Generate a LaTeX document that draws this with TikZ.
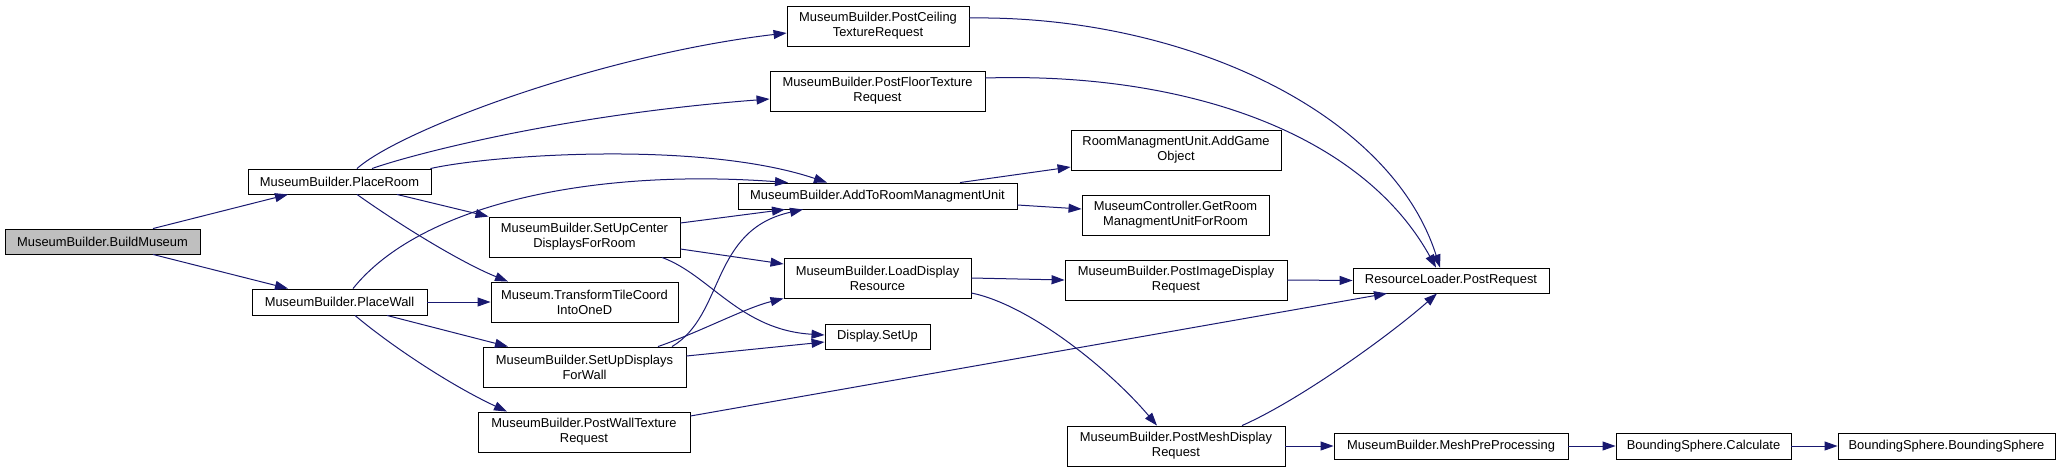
\documentclass[tikz,border=0pt]{standalone}
\usepackage{fontspec}
\setmainfont{Liberation Sans}
\usetikzlibrary{arrows.meta}
\definecolor{edgeblue}{HTML}{191970}
\definecolor{startgrey}{HTML}{BFBFBF}
\begin{document}
\begin{tikzpicture}[x=1pt,y=-1pt,
  box/.style={draw=black, line width=0.9pt, fill=white, inner sep=0pt, align=center,
    font=\fontsize{12.9pt}{15pt}\selectfont},
  edge/.style={draw=edgeblue, line width=1pt, -{Triangle[length=13pt,width=9pt]}}]
\useasboundingbox (0,0) rectangle (2060,472);
% nodes
\node[box, fill=startgrey, minimum width=195pt, minimum height=25pt] (bm) at (102.5,241.5) {MuseumBuilder.BuildMuseum};
\node[box, minimum width=183pt, minimum height=25pt] (pr) at (339.5,181.5) {MuseumBuilder.PlaceRoom};
\node[box, minimum width=175pt, minimum height=26pt] (pw) at (339.5,302) {MuseumBuilder.PlaceWall};
\node[box, minimum width=182pt, minimum height=40pt] (pc) at (878,26) {MuseumBuilder.PostCeiling\\TextureRequest};
\node[box, minimum width=215pt, minimum height=40pt] (pf) at (877.5,91) {MuseumBuilder.PostFloorTexture\\Request};
\node[box, minimum width=279pt, minimum height=26pt] (ar) at (877.5,196) {MuseumBuilder.AddToRoomManagmentUnit};
\node[box, minimum width=191pt, minimum height=40pt] (sc) at (584.5,237) {MuseumBuilder.SetUpCenter\\DisplaysForRoom};
\node[box, minimum width=187pt, minimum height=40pt] (tt) at (584.5,302) {Museum.TransformTileCoord\\IntoOneD};
\node[box, minimum width=203pt, minimum height=40pt] (sd) at (584.5,367) {MuseumBuilder.SetUpDisplays\\ForWall};
\node[box, minimum width=212pt, minimum height=40pt] (pwt) at (584,432) {MuseumBuilder.PostWallTexture\\Request};
\node[box, minimum width=187pt, minimum height=40pt] (ld) at (877.5,278) {MuseumBuilder.LoadDisplay\\Resource};
\node[box, minimum width=105pt, minimum height=25pt] (ds) at (877.5,336.5) {Display.SetUp};
\node[box, minimum width=210pt, minimum height=40pt] (ag) at (1176,150) {RoomManagmentUnit.AddGame\\Object};
\node[box, minimum width=187pt, minimum height=40pt] (gr) at (1175.5,215) {MuseumController.GetRoom\\ManagmentUnitForRoom};
\node[box, minimum width=222pt, minimum height=40pt] (pi) at (1176,280) {MuseumBuilder.PostImageDisplay\\Request};
\node[box, minimum width=218pt, minimum height=40pt] (pm) at (1176,446) {MuseumBuilder.PostMeshDisplay\\Request};
\node[box, minimum width=196pt, minimum height=25pt] (rq) at (1451,280.5) {ResourceLoader.PostRequest};
\node[box, minimum width=234pt, minimum height=26pt] (mp) at (1451,446) {MuseumBuilder.MeshPreProcessing};
\node[box, minimum width=175pt, minimum height=26pt] (bc) at (1703.5,446) {BoundingSphere.Calculate};
\node[box, minimum width=217pt, minimum height=26pt] (bb) at (1946.5,446) {BoundingSphere.BoundingSphere};
% edges
\draw[edge] ([xshift=50.5pt]bm.north) -- ([xshift=-51.5pt]pr.south);
\draw[edge] ([xshift=50.5pt]bm.south) -- ([xshift=-51.5pt]pw.north);
% PlaceRoom
\draw[edge] ([xshift=17.5pt]pr.north) .. controls (400,130) and (600,55) .. ([yshift=-7pt]pc.west);
\draw[edge] ([xshift=32.5pt]pr.north) .. controls (410,155) and (560,115) .. ([yshift=-8pt]pf.west);
\draw[edge] ([xshift=-1pt]pr.north east) .. controls (490,155) and (700,140) .. ([xshift=-50.5pt]ar.north);
\draw[edge] ([xshift=57.5pt]pr.south) -- (sc.north west);
\draw[edge] ([xshift=17.5pt]pr.south) .. controls (400,225) and (460,262) .. ([xshift=-76.5pt]tt.north);
% PlaceWall
\draw[edge] ([xshift=13.5pt]pw.north) .. controls (420,205) and (590,168) .. ([xshift=-89.5pt]ar.north);
\draw[edge] (pw.east) -- (tt.west);
\draw[edge] ([xshift=47.5pt]pw.south) -- ([xshift=-76.5pt]sd.north);
\draw[edge] ([xshift=15.5pt]pw.south) .. controls (390,345) and (450,385) .. ([xshift=-77pt]pwt.north);
% SetUpCenter
\draw[edge] ([yshift=14pt]sc.east) -- ([xshift=-92.5pt]ar.south);
\draw[edge] ([yshift=-12pt]sc.east) -- ([yshift=14pt]ld.west);
\draw[edge] ([xshift=77.5pt]sc.south) .. controls (710,275) and (740,330) .. ([yshift=1.5pt]ds.west);
% SetUpDisplays
\draw[edge] ([xshift=87.5pt]sd.north) .. controls (725,315) and (710,230) .. ([xshift=-74.5pt]ar.south);
\draw[edge] ([xshift=73.5pt]sd.north) .. controls (700,332) and (745,308) .. (ld.south west);
\draw[edge] ([yshift=11pt]sd.east) -- ([yshift=-5.5pt]ds.west);
% PostWallTexture
\draw[edge] ([yshift=16pt]pwt.east) -- ([xshift=-64pt]rq.south);
% Post* to PostRequest
\draw[edge] ([yshift=8pt]pc.east) .. controls (1180,15) and (1390,110) .. ([xshift=-11pt]rq.north);
\draw[edge] ([yshift=13pt]pf.east) .. controls (1180,72) and (1360,130) .. ([xshift=-15pt]rq.north);
% AddToRoom
\draw[edge] ([xshift=82.5pt]ar.north) -- ([yshift=-17pt]ag.west);
\draw[edge] ([yshift=-9pt]ar.east) -- ([yshift=6pt]gr.west);
% LoadDisplay
\draw[edge] (ld.east) -- (pi.west);
\draw[edge] ([yshift=-15pt]ld.east) .. controls (1030,305) and (1110,370) .. ([xshift=-19pt]pm.north);
\draw[edge] (pi.east) -- (rq.west);
\draw[edge] ([xshift=66pt]pm.north) .. controls (1300,400) and (1390,335) .. ([xshift=-14pt]rq.south);
\draw[edge] (pm.east) -- (mp.west);
\draw[edge] (mp.east) -- (bc.west);
\draw[edge] (bc.east) -- (bb.west);
\end{tikzpicture}
\end{document}
